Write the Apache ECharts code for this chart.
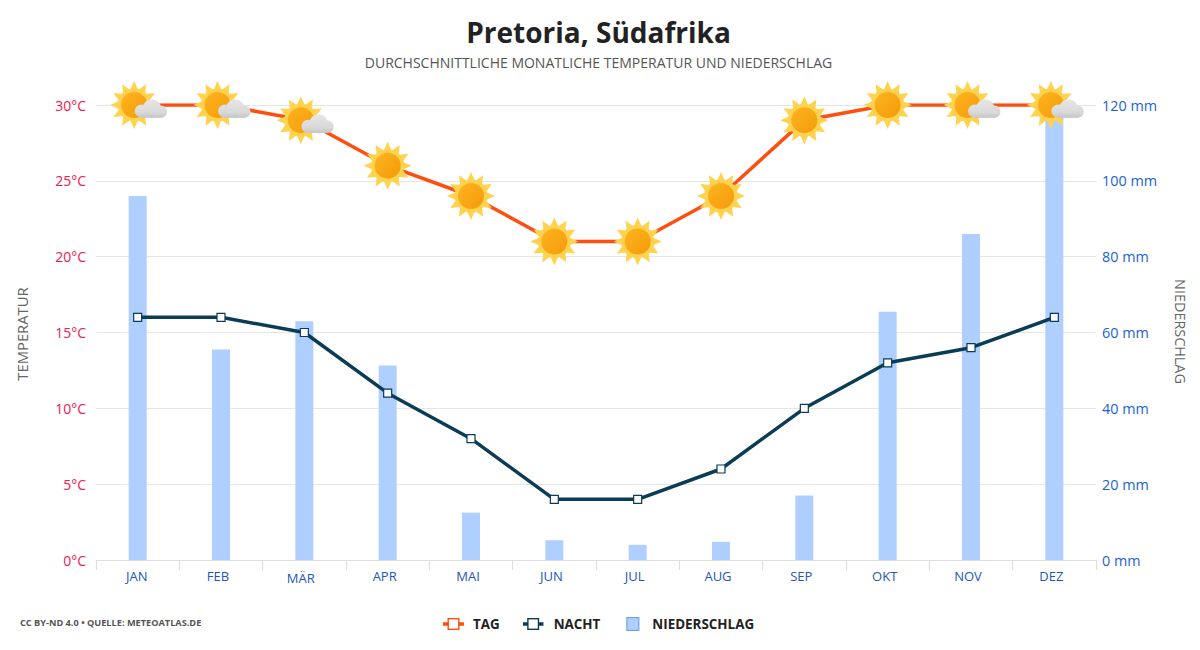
<!DOCTYPE html>
<html><head><meta charset="utf-8">
<style>html,body{margin:0;padding:0;background:#fff}#c{width:1200px;height:650px}</style>
<script src="https://cdn.jsdelivr.net/npm/echarts@6/dist/echarts.min.js"></script>
</head><body><div id="c"></div>
<script>
const months = ['JAN','FEB','MÄR','APR','MAI','JUN','JUL','AUG','SEP','OKT','NOV','DEZ'];
const tagTemp = [30,30,29,26,24,21,21,24,29,30,30,30];
const nachtTemp = [16,16,15,11,8,4,4,6,10,13,14,16];
const niederschlag = [96,55.5,63,51.3,12.5,5.2,4,4.8,17,65.5,86,118];
const wolkig = [1,1,1,0,0,0,0,0,0,0,1,1];
const FONT = '"Open Sans","Noto Sans",sans-serif';

function spikes(cx, cy){
  let p = [];
  for (let i = 0; i < 24; i++){
    const r = i % 2 ? 15.5 : 24, a = -Math.PI/2 + i*Math.PI/12;
    p.push((cx + r*Math.cos(a)).toFixed(2) + ',' + (cy + r*Math.sin(a)).toFixed(2));
  }
  return p.join(' ');
}
function svgUri(s){ return 'image://data:image/svg+xml;charset=utf-8,' + encodeURIComponent(s); }
function sunIcon(cloud){
  const c = 35;
  let s = '<svg xmlns="http://www.w3.org/2000/svg" width="70" height="70" viewBox="0 0 70 70">'
   + '<defs><linearGradient id="g" x1="0" y1="0" x2="1" y2="1"><stop offset="0" stop-color="#FDB51F"/><stop offset="1" stop-color="#F59A0A"/></linearGradient>'
   + '<linearGradient id="k" gradientUnits="userSpaceOnUse" x1="0" y1="29" x2="0" y2="48"><stop offset="0" stop-color="#E6E6E6"/><stop offset="0.7" stop-color="#D9D9D9"/><stop offset="1" stop-color="#C4C4C4"/></linearGradient></defs>'
   + '<polygon points="' + spikes(c,c) + '" fill="#FFD24F"/>'
   + '<circle cx="35" cy="35" r="16.5" fill="#FFD24F"/><circle cx="35" cy="35" r="13" fill="url(#g)"/>';
  if (cloud) {
    s += '<g fill="url(#k)"><circle cx="42.2" cy="41.2" r="6.6"/><circle cx="52.7" cy="38.6" r="9.4"/><circle cx="61.8" cy="41.6" r="6.2"/><rect x="42" y="40" width="20" height="7.8"/></g>';
  }
  return svgUri(s + '</svg>');
}
const iconSonne = sunIcon(false), iconWolke = sunIcon(true);
function lineKey(col){
  return svgUri('<svg xmlns="http://www.w3.org/2000/svg" width="21" height="14" viewBox="0 0 21 14"><rect x="0" y="5.25" width="21" height="3.5" fill="'+col+'"/><rect x="5.2" y="1.7" width="10.6" height="10.6" fill="#fff" stroke="'+col+'" stroke-width="1.4"/></svg>');
}
const barKey = svgUri('<svg xmlns="http://www.w3.org/2000/svg" width="21" height="14" viewBox="0 0 21 14"><rect x="3.5" y="0.6" width="12" height="12.8" fill="#AECFFF" stroke="#5B95EE" stroke-width="1"/></svg>');

const chart = echarts.init(document.getElementById('c'),null,{renderer:'svg'});
chart.setOption({
  animation:false,
  backgroundColor:'#fff',
  textStyle:{fontFamily:FONT},
  title:[
    {text:'Pretoria, Südafrika',left:598.5,top:18,padding:0,textAlign:'center',textStyle:{fontFamily:FONT,fontSize:28,fontWeight:'bold',color:'#222'}},
    {text:'DURCHSCHNITTLICHE MONATLICHE TEMPERATUR UND NIEDERSCHLAG',left:598.5,top:55,padding:0,textAlign:'center',textStyle:{fontFamily:FONT,fontSize:14,fontWeight:'normal',color:'#555'}},
    {text:'CC BY-ND 4.0 • QUELLE: METEOATLAS.DE',left:20,top:618,padding:0,textStyle:{fontFamily:FONT,fontSize:9.2,fontWeight:'bold',color:'#555'}}
  ],
  legend:{
    left:443,top:617,padding:0,itemWidth:21,itemHeight:14,itemGap:23,
    textStyle:{fontFamily:FONT,fontSize:13.4,fontWeight:'bold',color:'#222'},
    data:[
      {name:'TAG',icon:lineKey('#FF4E0D'),textStyle:{padding:[0,0,0,4]}},
      {name:'NACHT',icon:lineKey('#0B3C55'),textStyle:{padding:[0,0,0,5]}},
      {name:'NIEDERSCHLAG',icon:barKey,textStyle:{padding:[0,0,0,3]}}
    ]
  },
  grid:{left:96,right:104,top:105,bottom:90},
  xAxis:{
    type:'category',data:months,
    axisLine:{lineStyle:{color:'#ddd',width:1}},
    axisTick:{show:true,length:10,lineStyle:{color:'#ddd'}},
    axisLabel:{color:'#2257B8',fontSize:13,margin:9,
      formatter:v=>(v==='MÄR'?'{m|':v==='JAN'?'{j|':'{d|')+v+'}',
      rich:{
        d:{color:'#2257B8',fontSize:13,padding:[0,6,0,0]},
        j:{color:'#2257B8',fontSize:13,padding:[0,2,0,0]},
        m:{color:'#2257B8',fontSize:13,padding:[2,7,0,0]}
      }},
    splitLine:{show:false}
  },
  yAxis:[
    {type:'value',min:0,max:30,interval:5,name:'TEMPERATUR',nameLocation:'middle',nameGap:67,nameRotate:90,
     nameTextStyle:{color:'#666',fontSize:14.8,fontFamily:FONT,padding:[0,3,0,0]},
     axisLine:{show:false},axisTick:{show:false},
     axisLabel:{formatter:'{value}°C',color:'#F01A4E',fontSize:14,margin:10},
     splitLine:{lineStyle:{color:'#e6e6e6',width:1}}},
    {type:'value',min:0,max:120,interval:20,name:'NIEDERSCHLAG',nameLocation:'middle',nameGap:77,nameRotate:-90,
     nameTextStyle:{color:'#666',fontSize:14.4,fontFamily:FONT,padding:[0,2,0,0]},
     axisLine:{show:false},axisTick:{show:false},
     axisLabel:{formatter:'{value} mm',color:'#1A62D6',fontSize:14.4,margin:6},
     splitLine:{show:false}}
  ],
  series:[
    {name:'NIEDERSCHLAG',type:'bar',yAxisIndex:1,data:niederschlag,barWidth:18,z:1,
     itemStyle:{color:'#AECFFF'}},
    {name:'TAG',type:'line',yAxisIndex:0,z:3,
     data:tagTemp.map((v,i)=>({value:v,
       symbol:wolkig[i]?iconWolke:iconSonne,
       symbolOffset:wolkig[i]?[-3.5,0]:[0,0]})),
     symbolSize:70,showSymbol:true,showAllSymbol:true,
     lineStyle:{color:'#FF4E0D',width:3.5},itemStyle:{color:'#FF4E0D'}},
    {name:'NACHT',type:'line',yAxisIndex:0,z:4,data:nachtTemp,
     symbol:'rect',symbolSize:8,showAllSymbol:true,
     lineStyle:{color:'#0B3C55',width:3.5},
     itemStyle:{color:'#fff',borderColor:'#0B3C55',borderWidth:1.2}}
  ]
});
</script></body></html>
